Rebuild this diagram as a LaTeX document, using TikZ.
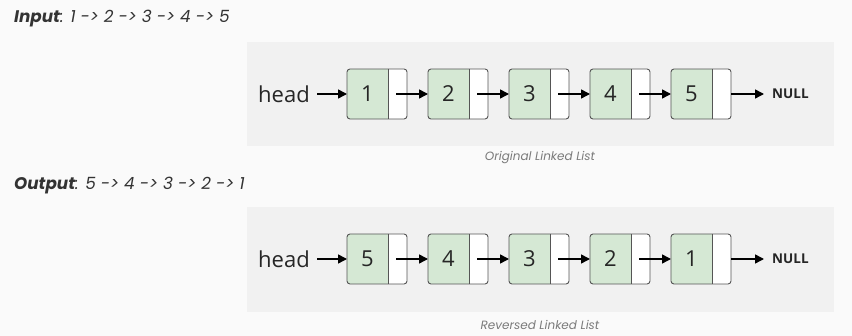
\documentclass[tikz,border=0pt]{standalone}
\usepackage{fontspec}
\setmainfont{Open Sans}
\newfontfamily\titlefont{Poppins}
\usetikzlibrary{arrows.meta,calc}
\definecolor{pagebg}{HTML}{FAFAFA}
\definecolor{panelbg}{HTML}{F1F1F1}
\definecolor{cellgreen}{HTML}{D5E8D4}
\definecolor{celledge}{HTML}{555555}
\definecolor{titlecol}{HTML}{333333}
\definecolor{captioncol}{HTML}{7A7A7A}
\tikzset{
  panel/.style={fill=panelbg, draw=none},
  datacell/.style={fill=cellgreen, draw=none},
  ptrcell/.style={fill=white, draw=none},
  celloutline/.style={draw=celledge, line width=0.9pt, rounded corners=3pt},
  link/.style={-{Triangle[length=9pt,width=9pt]}, line width=1.5pt, black},
  numlabel/.style={font=\fontsize{22}{26}\selectfont, text=black!85},
  headlabel/.style={font=\fontsize{22}{26}\selectfont, text=black!85, inner sep=0pt},
  nulllabel/.style={font=\bfseries\fontsize{13.5}{16}\selectfont, text=black!85, inner sep=0pt, anchor=west},
  caption/.style={font=\titlefont\itshape\fontsize{12}{14}\selectfont, text=captioncol},
  heading/.style={font=\titlefont\itshape\fontsize{16.8}{19}\selectfont, text=titlecol, anchor=west, inner sep=0pt},
}
% one list row: #1 = row centre y, #2 = name prefix, #3 = values
\newcommand{\listrow}[3]{%
  \node[headlabel, anchor=east] (#2head) at (310,#1) {head};
  \foreach \v [count=\i] in {#3} {
    \pgfmathsetmacro{\xl}{347+81*(\i-1)}
    \path[ptrcell, rounded corners=3pt] (\xl,#1-25) rectangle (\xl+60,#1+25);
    \path[datacell, rounded corners=3pt] (\xl+41,#1-25) [sharp corners] -- (\xl+41,#1-25)
      [rounded corners=3pt] -- (\xl,#1-25) -- (\xl,#1+25) [sharp corners] -- (\xl+41,#1+25) -- cycle;
    \draw[celloutline] (\xl,#1-25) rectangle (\xl+60,#1+25);
    \draw[celledge, line width=0.9pt] (\xl+41,#1-25) -- (\xl+41,#1+25);
    \node[numlabel] (#2d\i) at (\xl+20.5,#1) {\v};
    \coordinate (#2p\i) at (\xl+49,#1);
    \coordinate (#2in\i) at (\xl,#1);
    \coordinate (#2out\i) at (\xl+60,#1);
  }
  \coordinate (#2hs) at (317,#1);
  \draw[link] (#2hs) -- (#2in1);
  \foreach \i [evaluate=\i as \j using int(\i+1)] in {1,...,4} {
    \draw[link] (#2p\i) -- (#2in\j);
  }
  \node[nulllabel] (#2null) at (772,#1) {NULL};
  \draw[link] (#2out5) -- ($(#2null.west)+(-8,0)$);
}
\begin{document}
\begin{tikzpicture}[x=1pt,y=-1pt]
  \path[fill=pagebg] (0,0) rectangle (852,336);
  \useasboundingbox (0,0) rectangle (852,336);

  % first example
  \node[heading] (intitle) at (14,19) {\textbf{Input}: 1 -> 2 -> 3 -> 4 -> 5};
  \path[panel] (247,42) rectangle (834,146);
  \listrow{94}{a}{1,2,3,4,5}
  \node[caption] (acap) at (540,158) {Original Linked List};

  % second example
  \node[heading] (outtitle) at (14,186) {\textbf{Output}: 5 -> 4 -> 3 -> 2 -> 1};
  \path[panel] (247,207) rectangle (834,312);
  \listrow{259}{b}{5,4,3,2,1}
  \node[caption] (bcap) at (540,325) {Reversed Linked List};
\end{tikzpicture}
\end{document}
